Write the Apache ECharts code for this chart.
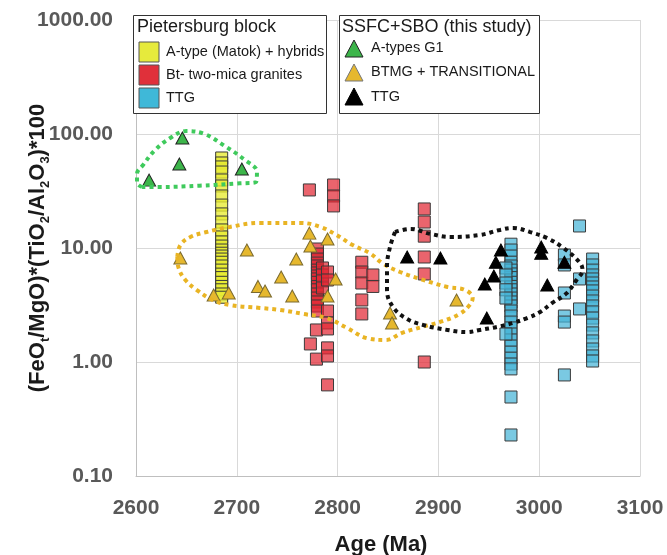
<!DOCTYPE html>
<html>
<head>
<meta charset="utf-8">
<script src="https://cdn.jsdelivr.net/npm/echarts@6/dist/echarts.min.js"></script>
<style>
  html, body { margin: 0; padding: 0; background: #fff; }
  #chart { width: 667px; height: 555px; }
</style>
</head>
<body>
<div id="chart"></div>
<script>
// Age axis (Ma) and ratio axis ticks
const ageTicks = [2600, 2700, 2800, 2900, 3000, 3100];
const ratioTicks = [0.1, 1, 10, 100, 1000];

// Pietersburg block — A-type (Matok) + hybrids, all at one age
const matokAge = 2685;
const matokValues = [61.6, 55.7, 51.4, 46.4, 39.5, 35.0, 28.6, 23.8, 19.9, 16.9, 14.4, 12.5, 11.3, 10.4,
  9.6, 9.0, 8.5, 8.0, 7.5, 6.95, 6.4, 5.9, 5.5, 5.0, 4.6, 4.3, 3.95, 3.7];

// Pietersburg block — Bt- two-mica granites [age, value]
const btGranites = [
  [2772, 32.3], [2796, 35.7], [2796, 28.6], [2796, 23.4],
  [2780, 9.8], [2780, 8.85], [2780, 8.0], [2780, 7.38], [2780, 6.95], [2780, 6.4], [2780, 6.04],
  [2780, 5.68], [2780, 5.35], [2780, 5.0], [2780, 4.6], [2780, 4.3], [2780, 3.95], [2780, 3.64],
  [2780, 3.36], [2780, 3.10], [2780, 2.80],
  [2785, 6.68], [2785, 5.80], [2785, 5.14], [2785, 4.46],
  [2790, 6.16], [2790, 5.24], [2790, 2.80],
  [2779, 1.91], [2790, 2.2], [2790, 1.95],
  [2773, 1.44], [2779, 1.06], [2790, 1.33], [2790, 1.13], [2790, 0.63],
  [2824, 7.5], [2824, 6.16], [2824, 4.93], [2824, 3.5], [2824, 2.64],
  [2835, 5.80], [2835, 4.6],
  [2886, 22.0], [2886, 16.9], [2886, 12.7], [2886, 8.34], [2886, 5.92], [2886, 1.0]
];

// Pietersburg block — TTG [age, value]
const ttgPietersburg = [
  [2972, 10.8], [2972, 9.6], [2972, 8.5], [2972, 7.5], [2972, 6.95], [2972, 6.4], [2972, 5.92],
  [2972, 5.5], [2972, 5.0], [2972, 4.6], [2972, 4.3], [2972, 3.95], [2972, 3.64], [2972, 3.36],
  [2972, 3.10], [2972, 2.80], [2972, 2.53], [2972, 2.24], [2972, 1.99], [2972, 1.76], [2972, 1.56],
  [2972, 1.38], [2972, 1.22], [2972, 1.08], [2972, 0.96], [2972, 0.87], [2972, 0.493], [2972, 0.229],
  [2967, 6.68], [2967, 5.80], [2967, 4.93], [2967, 4.3], [2967, 3.64], [2967, 1.76],
  [3025, 8.68], [3025, 7.1], [3025, 4.03], [3025, 2.53], [3025, 2.24], [3025, 0.77],
  [3040, 15.6], [3040, 5.35], [3040, 2.92],
  [3053, 8.0], [3053, 7.1], [3053, 6.4], [3053, 5.80], [3053, 5.35], [3053, 4.93], [3053, 4.55],
  [3053, 4.2], [3053, 3.79], [3053, 3.43], [3053, 3.10], [3053, 2.75], [3053, 2.43], [3053, 2.11],
  [3053, 1.80], [3053, 1.53], [3053, 1.30], [3053, 1.13], [3053, 1.02]
];

// SSFC+SBO (this study)
const aTypesG1 = [[2613, 39.4], [2643, 54.6], [2646, 92.2], [2705, 49.3]];
const btmgTransitional = [
  [2644, 8.17], [2710, 9.6], [2677, 3.87], [2692, 4.03], [2721, 4.6], [2728, 4.2], [2744, 5.57],
  [2755, 3.79], [2759, 8.0], [2772, 13.5], [2773, 10.4], [2790, 12.0], [2798, 5.35], [2790, 3.79],
  [2852, 2.69], [2854, 2.20], [2918, 3.50]
];
const ttgStudy = [
  [2869, 8.34], [2902, 8.17], [2946, 4.83], [2948, 2.43], [2955, 5.68], [2957, 7.5], [2962, 9.6],
  [3002, 10.2], [3002, 9.0], [3008, 4.73], [3025, 7.5]
];

// Field outlines (closed dotted envelopes)
const envelopeG1 = [[2606, 34.3], [2601, 37.5], [2601, 44.5], [2607, 53.5], [2619, 72.4], [2634, 92.3],
  [2650, 106], [2668, 100], [2688, 78.5], [2708, 59.2], [2720, 46.4], [2719, 37.9], [2703, 36.9],
  [2663, 35.2], [2624, 34.3], [2606, 34.3]];
const envelopeBtmg = [[2641, 8.34], [2644, 10.6], [2654, 12.5], [2670, 13.8], [2693, 15.3], [2723, 16.6],
  [2763, 16.6], [2783, 15.3], [2799, 13.0], [2815, 10.6], [2832, 9.0], [2845, 7.3], [2862, 6.16],
  [2882, 5.35], [2909, 4.55], [2926, 4.3], [2934, 3.64], [2931, 3.16], [2921, 2.64], [2904, 2.28],
  [2884, 2.03], [2864, 1.80], [2848, 1.56], [2829, 1.62], [2809, 2.0], [2789, 2.43], [2766, 2.64],
  [2743, 2.86], [2723, 2.98], [2693, 3.16], [2676, 3.5], [2660, 4.3], [2649, 5.24], [2642, 6.81],
  [2641, 8.34]];
const envelopeTtg = [[2857, 13.8], [2872, 14.7], [2892, 13.3], [2912, 12.5], [2941, 13.0], [2961, 14.4],
  [2974, 15.0], [2991, 13.8], [3008, 12.2], [3024, 10.0], [3040, 7.5], [3043, 6.4], [3037, 5.24],
  [3027, 4.0], [3013, 3.3], [3001, 2.75], [2988, 2.43], [2974, 2.2], [2958, 2.03], [2941, 1.91],
  [2928, 1.83], [2909, 1.91], [2885, 2.11], [2869, 2.38], [2855, 3.03], [2849, 4.3], [2849, 6.81],
  [2852, 10.2], [2857, 13.8]];

const FONT = '"Liberation Sans", Arial, sans-serif';
const COL = {
  yellow: 'rgba(232, 236, 50, 0.78)', red: 'rgba(226, 40, 52, 0.72)', blue: 'rgba(70, 180, 215, 0.72)',
  green: '#3cb54a', gold: '#e6b82e', black: '#000000',
  dotGreen: '#3fca5c', dotGold: '#e9b424', dotBlack: '#111111'
};

const chart = echarts.init(document.getElementById('chart'), null, { renderer: 'canvas' });

function squares(name, data, color, z) {
  return {
    name, type: 'scatter', data, symbol: 'rect', symbolSize: 12, z,
    itemStyle: { color, borderColor: '#3a3a3a', borderWidth: 1, opacity: 1 },
    emphasis: { disabled: true }
  };
}
function triangles(name, data, color, border, z) {
  return {
    name, type: 'scatter', data, symbol: 'triangle', symbolSize: [13, 12], z,
    itemStyle: { color, borderColor: border, borderWidth: 1, opacity: 1 },
    emphasis: { disabled: true }
  };
}
function envelope(name, data, color) {
  return {
    name, type: 'line', data, smooth: 0.4, showSymbol: false, symbol: 'none', z: 5,
    lineStyle: { color, width: 4, type: [4, 4], cap: 'butt' },
    emphasis: { disabled: true }
  };
}

// Legend boxes drawn as plain graphics
const legendText = { fontFamily: FONT, fill: '#1a1a1a' };
function tri(cx, cy, fill, stroke) {
  return {
    type: 'polygon', shape: { points: [[cx - 9, cy + 8], [cx + 9, cy + 8], [cx, cy - 9]] },
    style: { fill, stroke, lineWidth: 1 }
  };
}
function sq(x, y, fill) {
  return { type: 'rect', shape: { x, y, width: 20, height: 20 }, style: { fill, stroke: '#555', lineWidth: 1 } };
}
function txt(x, y, text, size) {
  return { type: 'text', x, y, style: Object.assign({ text, fontSize: size, textVerticalAlign: 'middle' }, legendText) };
}

const graphics = [
  { type: 'rect', shape: { x: 133.5, y: 15.5, width: 193, height: 98 }, style: { fill: '#fff', stroke: '#333', lineWidth: 1 }, z: 10 },
  { type: 'rect', shape: { x: 339.5, y: 15.5, width: 200, height: 98 }, style: { fill: '#fff', stroke: '#333', lineWidth: 1 }, z: 10 },
  Object.assign(txt(137, 27, 'Pietersburg block', 18), { z: 11 }),
  Object.assign(sq(139, 42, '#e6ea3c'), { z: 11 }),
  Object.assign(sq(139, 65, '#e0303a'), { z: 11 }),
  Object.assign(sq(139, 88, '#3fb8d8'), { z: 11 }),
  Object.assign(txt(166, 52, 'A-type (Matok) + hybrids', 14.5), { z: 11 }),
  Object.assign(txt(166, 75, 'Bt- two-mica granites', 14.5), { z: 11 }),
  Object.assign(txt(166, 98, 'TTG', 14.5), { z: 11 }),
  Object.assign(txt(342, 27, 'SSFC+SBO (this study)', 18), { z: 11 }),
  Object.assign(tri(354, 49, '#3cb54a', '#222'), { z: 11 }),
  Object.assign(tri(354, 73, '#e6b82e', '#777'), { z: 11 }),
  Object.assign(tri(354, 97, '#000', '#000'), { z: 11 }),
  Object.assign(txt(371, 48, 'A-types G1', 14.5), { z: 11 }),
  Object.assign(txt(371, 72, 'BTMG + TRANSITIONAL', 14.5), { z: 11 }),
  Object.assign(txt(371, 97, 'TTG', 14.5), { z: 11 })
];

const option = {
  animation: false,
  backgroundColor: '#ffffff',
  grid: { left: 136, right: 27, top: 20, bottom: 79, containLabel: false, outerBoundsMode: 'none' },
  xAxis: {
    type: 'value', min: ageTicks[0], max: ageTicks[ageTicks.length - 1], interval: 100,
    name: 'Age (Ma)', nameLocation: 'middle', nameGap: 58, nameMoveOverlap: false,
    nameTextStyle: { fontFamily: FONT, fontSize: 22, fontWeight: 'bold', color: '#1a1a1a', padding: [0, 14, 0, 0] },
    axisLine: { show: true, lineStyle: { color: '#bfbfbf', width: 1 } },
    axisTick: { show: false },
    axisLabel: {
      fontFamily: FONT, fontSize: 21, fontWeight: 'bold', color: '#595959', margin: 22,
      formatter: v => String(v)
    },
    splitLine: { show: true, lineStyle: { color: '#d9d9d9', width: 1 } }
  },
  yAxis: {
    type: 'log', logBase: 10, min: ratioTicks[0], max: ratioTicks[ratioTicks.length - 1],
    name: '{m|(FeO}{s|t}{m|/MgO)*(TiO}{s|2}{m|/Al}{s|2}{m|O}{s|3}{m|)*100}',
    nameLocation: 'middle', nameGap: 84, nameRotate: 90, nameMoveOverlap: false,
    nameTextStyle: {
      rich: {
        m: { fontFamily: FONT, fontSize: 22, fontWeight: 'bold', color: '#1a1a1a', lineHeight: 28 },
        s: { fontFamily: FONT, fontSize: 13, fontWeight: 'bold', color: '#1a1a1a', lineHeight: 15, verticalAlign: 'bottom' }
      }
    },
    axisLine: { show: true, lineStyle: { color: '#bfbfbf', width: 1 } },
    axisTick: { show: false },
    axisLabel: {
      fontFamily: FONT, fontSize: 21, fontWeight: 'bold', color: '#595959', margin: 23,
      formatter: v => Number(v).toFixed(2)
    },
    splitLine: { show: true, lineStyle: { color: '#d9d9d9', width: 1 } }
  },
  graphic: graphics,
  series: [
    squares('A-type (Matok) + hybrids', matokValues.map(v => [matokAge, v]), COL.yellow, 2),
    squares('Bt- two-mica granites', btGranites, COL.red, 2),
    squares('TTG (Pietersburg)', ttgPietersburg, COL.blue, 2),
    triangles('A-types G1', aTypesG1, COL.green, '#222', 3),
    triangles('BTMG + TRANSITIONAL', btmgTransitional, COL.gold, '#7a6a30', 3),
    triangles('TTG (SSFC+SBO)', ttgStudy, COL.black, '#000', 3),
    envelope('G1 field', envelopeG1, COL.dotGreen),
    envelope('BTMG field', envelopeBtmg, COL.dotGold),
    envelope('TTG field', envelopeTtg, COL.dotBlack)
  ]
};

chart.setOption(option);
</script>
</body>
</html>
